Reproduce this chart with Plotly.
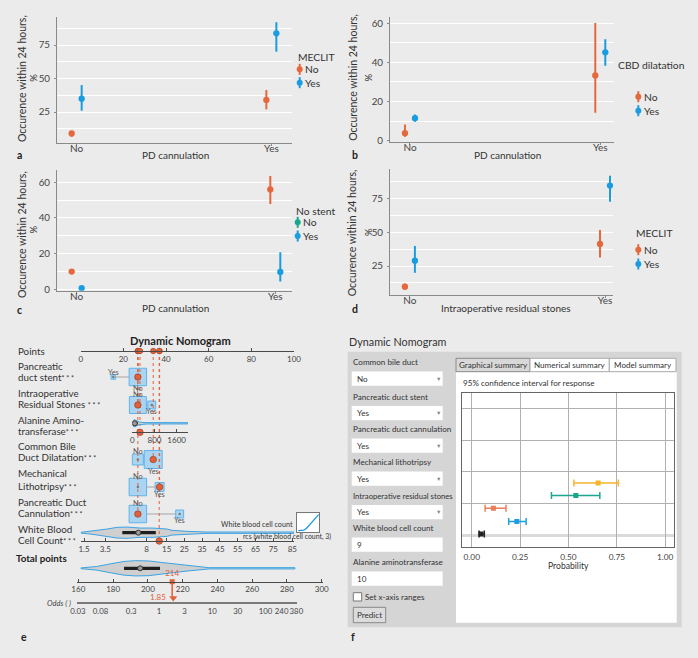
import math
import plotly.graph_objects as go

W, H = 698, 658
FONT = "Lato"
BG = "#ebebeb"
TXT = "#333333"
AXC = "#8a8a8a"
ORANGE = "#e5683d"
BLUE = "#1a9ce0"
GREEN = "#18a78b"
RED = "#e0603a"
BOXFILL = "#a9d4f2"
BOXLINE = "#62b3ea"

# ---------------- data: panels a-d ----------------
CATS = ["No", "Yes"]
CAT_POS = [1, 2]

A_NO_EST = [9.0, 34.0]
A_NO_LO = [6.6, 27.0]
A_NO_HI = [11.0, 41.4]
A_YES_EST = [34.9, 83.7]
A_YES_LO = [26.0, 70.0]
A_YES_HI = [45.1, 92.0]

B_NO_EST = [3.8, 33.3]
B_NO_LO = [2.0, 14.3]
B_NO_HI = [8.3, 60.0]
B_YES_EST = [11.5, 45.1]
B_YES_LO = [9.7, 38.2]
B_YES_HI = [13.4, 51.8]

C_NO_EST = [9.9, 56.0]
C_NO_LO = [8.6, 47.8]
C_NO_HI = [11.2, 63.5]
C_YES_EST = [0.6, 9.7]
C_YES_LO = [0.2, 4.3]
C_YES_HI = [1.2, 20.7]

D_NO_EST = [9.7, 41.3]
D_NO_LO = [7.5, 31.2]
D_NO_HI = [12.0, 51.6]
D_YES_EST = [28.9, 84.4]
D_YES_LO = [20.0, 72.5]
D_YES_HI = [39.8, 91.6]

# ---------------- data: panel e (nomogram) ----------------
PTS_TICKS = [0, 20, 40, 60, 80, 100]
CAT_NO_POINTS = [26.8, 26.8, 26.8, 26.8, 26.8]
CAT_YES_POINTS = [15.3, 33.3, 34.0, 37.0, 46.4]
CAT_NO_SHARE = [0.53, 0.50, 0.21, 0.53, 0.53]
CAT_YES_SHARE = [0.035, 0.11, 0.56, 0.14, 0.11]
CAT_SELECTED = ["No", "No", "Yes", "Yes", "No"]

ALT_TICKS = [0, 800, 1600]
ALT_SELECTED = 277
ALT_DENS_X = [0, 36, 72, 108, 180, 252, 360, 520, 2000]
ALT_DENS = [0.1, 0.7, 1.0, 0.85, 0.55, 0.3, 0.15, 0.1, 0.08]
ALT_BOX = [40, 90, 200]

WBC_TICK_LABELS = ["1.5", "3.5", "8", "15", "25", "35", "45", "55", "65", "75", "85"]
WBC_TICK_POINTS = [1.55, 11.5, 30.9, 40.3, 48.6, 56.9, 65.3, 73.6, 82.0, 90.3, 99.2]
WBC_DENS_PTS = [0, 5.8, 12.3, 17.0, 21.7, 27.8, 33.9, 40.5, 42.8, 49.8, 59.2, 100]
WBC_DENS = [0.0, 0.25, 0.62, 0.94, 1.0, 0.81, 0.81, 0.62, 0.38, 0.19, 0.06, 0.06]
WBC_BOX = [19.5, 27.0, 35.2]
WBC_SELECTED_POINTS = 36.8

TOTAL_TICKS = [160, 180, 200, 220, 240, 260, 280, 300]
TOTAL_DENS_X = [161.4, 170.6, 178.2, 186.3, 193.0, 200.5, 208.0, 214.7, 222.0, 230.0, 235.0, 284.6]
TOTAL_DENS = [0.0, 0.2, 0.55, 0.89, 1.0, 0.96, 0.75, 0.55, 0.34, 0.14, 0.04, 0.04]
TOTAL_BOX = [186.3, 195.6, 207.0]
TOTAL_SELECTED = 214
ODDS_TICKS = [0.03, 0.08, 0.3, 1, 3, 10, 30, 100, 240, 380]
ODDS_LABEL_AT = [0.03, 0.08, 0.3, 1, 3, 10, 30, 100, 200, 378]   # 240 label nudged left as in the figure
ODDS_SELECTED = 1.85

INSET_X = [0.07, 0.32, 0.44, 0.56, 0.71, 0.81, 1.0]
INSET_Y = [0.09, 0.12, 0.21, 0.37, 0.56, 0.70, 0.96]

# ---------------- data: panel f ----------------
F_INPUT_LABELS = ["Common bile duct", "Pancreatic duct stent", "Pancreatic duct cannulation",
                  "Mechanical lithotripsy", "Intraoperative residual stones",
                  "White blood cell count", "Alanine aminotransferase"]
F_INPUT_VALUES = ["No", "Yes", "Yes", "Yes", "Yes", "9", "10"]
F_INPUT_SELECT = [True, True, True, True, True, False, False]
F_PRED = [0.653, 0.538, 0.112, 0.233, 0.048]
F_LO = [0.528, 0.412, 0.069, 0.191, 0.038]
F_HI = [0.758, 0.662, 0.177, 0.281, 0.065]
F_ROW = [2.65, 2.26, 1.86, 1.44, 1.05]
F_COLORS = ["#f6b42a", "#1aa58c", "#ec7d5c", "#1e9fe0", "#222222"]
F_XTICKS = [0, 0.25, 0.5, 0.75, 1.0]

# ---------------- helpers ----------------
fig = go.Figure()
shapes = []
annotations = []
layout = {}


def dom_x(a, b):
    return [a / W, b / W]


def dom_y(top, bottom):
    return [1 - bottom / H, 1 - top / H]


def ann(text, x, y, size=11, color=TXT, xa="center", ya="middle", angle=0,
        xref="paper", yref="paper"):
    if xref == "paper":
        x = x / W
    if yref == "paper":
        y = 1 - y / H
    annotations.append(dict(text=text, x=x, y=y, xref=xref, yref=yref, showarrow=False,
                            font=dict(size=size, color=color, family=FONT),
                            xanchor=xa, yanchor=ya, textangle=angle, borderpad=0))


def prect(x0, y0, x1, y1, fill, line=None, lw=1, layer="below"):
    shapes.append(dict(type="rect", xref="paper", yref="paper", x0=x0 / W, x1=x1 / W,
                       y0=1 - y1 / H, y1=1 - y0 / H, fillcolor=fill, layer=layer,
                       line=dict(color=line if line else "rgba(0,0,0,0)", width=lw if line else 0)))


# ---------------- panels a-d ----------------
PANELS = [
    dict(i="", xd=(57, 292), yd=(17, 143), xr=(0.899, 2.106), yr=(1.9, 95.9), dt=25, mdt=12.5,
         ser=[(A_NO_EST, A_NO_LO, A_NO_HI, ORANGE, -1), (A_YES_EST, A_YES_LO, A_YES_HI, BLUE, 1)],
         xt=("PD cannulation", 175, 155), yt=(22, 79), pct=(33.5, 78.3), let=("a", 16, 155),
         leg=("MECLIT", 296.5, 57.3, 299.7, 304, [("No", 69.3, ORANGE), ("Yes", 82.7, BLUE)])),
    dict(i="2", xd=(390, 614), yd=(17, 141.7), xr=(0.895, 2.072), yr=(-0.5, 63.1), dt=20, mdt=10,
         ser=[(B_NO_EST, B_NO_LO, B_NO_HI, ORANGE, -1), (B_YES_EST, B_YES_LO, B_YES_HI, BLUE, 1)],
         xt=("PD cannulation", 507.3, 155), yt=(352.3, 77.5), pct=(368.3, 77.3), let=("b", 351, 155),
         leg=("CBD dilatation", 617, 65, 638.3, 642.5, [("No", 96.7, ORANGE), ("Yes", 110.7, BLUE)])),
    dict(i="3", xd=(57, 292), yd=(170, 290.7), xr=(0.901, 2.084), yr=(-0.8, 66.9), dt=20, mdt=10,
         ser=[(C_NO_EST, C_NO_LO, C_NO_HI, ORANGE, -1), (C_YES_EST, C_YES_LO, C_YES_HI, BLUE, 1)],
         xt=("PD cannulation", 175, 308.3), yt=(22, 235), pct=(33.3, 229.3), let=("c", 16, 310),
         leg=("No stent", 294.5, 210.7, 297.7, 302, [("No", 222.3, GREEN), ("Yes", 236, BLUE)])),
    dict(i="4", xd=(390, 613), yd=(169, 295), xr=(0.898, 2.041), yr=(3.6, 96.6), dt=25, mdt=12.5,
         ser=[(D_NO_EST, D_NO_LO, D_NO_HI, ORANGE, -1), (D_YES_EST, D_YES_LO, D_YES_HI, BLUE, 1)],
         xt=("Intraoperative residual stones", 505.7, 308.3), yt=(352.3, 233), pct=(368.3, 231.7),
         let=("d", 351, 309),
         leg=("MECLIT", 635, 233.3, 638.3, 642.5, [("No", 249.7, ORANGE), ("Yes", 264, BLUE)])),
]

for p in PANELS:
    i = p["i"]
    layout["xaxis" + i] = dict(domain=dom_x(*p["xd"]), range=list(p["xr"]), anchor="y" + i,
                               tickvals=CAT_POS, ticktext=CATS, showgrid=False, zeroline=False,
                               showline=True, linecolor=AXC, linewidth=1, ticks="outside",
                               ticklen=2, tickcolor=AXC, ticklabelstandoff=-6, automargin=False,
                               tickfont=dict(size=10, color="#444", family=FONT))
    layout["yaxis" + i] = dict(domain=dom_y(*p["yd"]), range=list(p["yr"]), anchor="x" + i,
                               tick0=0, dtick=p["dt"], showgrid=True, gridcolor="white",
                               gridwidth=1.3, zeroline=False, showline=True, linecolor=AXC,
                               linewidth=1, ticks="outside", ticklen=2, tickcolor=AXC,
                               ticklabelstandoff=2, automargin=False,
                               minor=dict(tick0=0, dtick=p["mdt"], showgrid=True,
                                          gridcolor="white", gridwidth=1.3),
                               tickfont=dict(size=9.8, color="#444", family=FONT))
    ppu = (p["xd"][1] - p["xd"][0]) / (p["xr"][1] - p["xr"][0])
    for est, lo, hi, col, side in p["ser"]:
        fig.add_trace(go.Scatter(
            x=[c + side * 5.0 / ppu for c in CAT_POS], y=est, mode="markers",
            marker=dict(color=col, size=6.3),
            error_y=dict(type="data", symmetric=False,
                         array=[h - e for h, e in zip(hi, est)],
                         arrayminus=[e - l for e, l in zip(est, lo)],
                         color=col, thickness=2, width=0),
            xaxis="x" + i, yaxis="y" + i, showlegend=False, hoverinfo="skip"))
    t, tx, ty = p["xt"]
    ann(t, tx, ty, size=10)
    ann("Occurence within 24 hours,", p["yt"][0], p["yt"][1], size=10.5, angle=-90)
    ann("%", p["pct"][0], p["pct"][1], size=9.5, angle=-90)
    ann("<b>%s</b>" % p["let"][0], p["let"][1], p["let"][2], size=10.5, color="#222", xa="left")
    title, ltx, lty, gx, ttx, entries = p["leg"]
    ann(title, ltx, lty, size=10.3, xa="left")
    for lab, gy, col in entries:
        shapes.append(dict(type="line", xref="paper", yref="paper", x0=gx / W, x1=gx / W,
                           y0=1 - (gy + 5.5) / H, y1=1 - (gy - 5.5) / H,
                           line=dict(color=col, width=2)))
        shapes.append(dict(type="circle", xref="paper", yref="paper", x0=(gx - 3) / W,
                           x1=(gx + 3) / W, y0=1 - (gy + 3) / H, y1=1 - (gy - 3) / H,
                           fillcolor=col, line=dict(color=col, width=0)))
        ann(lab, ttx, gy, size=10.3, xa="left")

# ---------------- panel e: nomogram ----------------
E_PX0, E_PX1 = 80.7, 294.0          # pixel span of points scale
PX_PER_PT = (E_PX1 - E_PX0) / 100.0
AXE = "#4a4a4a"
tickf = dict(size=8, color="#444", family=FONT)

layout["yaxis5"] = dict(domain=dom_y(338, 625), range=[625, 338], visible=False,
                        anchor="free", position=0, automargin=False)


def free_x(dom, rng, ypix, **kw):
    d = dict(domain=dom_x(*dom), range=rng, anchor="free", position=1 - ypix / H,
             side="bottom", showline=True, linecolor=AXE, linewidth=1.2, ticks="inside",
             ticklen=3, tickcolor=AXE, showgrid=False, zeroline=False, tickfont=tickf,
             tickangle=0, automargin=False)
    d.update(kw)
    return d


ALT_DOM = (132.3, 188.0)
ALT_RANGE = [0, 2010]
TOT_DOM = (77.3, 322.7)
TOT_RANGE = [159.42, 300.58]
ODDS_DOM = (77.3, 296.5)
ODDS_RANGE = [-1.533, 2.580]

layout["xaxis5"] = free_x((E_PX0, E_PX1), [0, 100], 351, tickvals=PTS_TICKS)
layout["xaxis6"] = free_x(ALT_DOM, ALT_RANGE, 432.3, tickvals=ALT_TICKS)
layout["xaxis7"] = free_x((E_PX0, E_PX1), [0, 100], 541, tickvals=WBC_TICK_POINTS,
                          ticktext=WBC_TICK_LABELS)
layout["xaxis8"] = free_x(TOT_DOM, TOT_RANGE, 581.7, tickvals=TOTAL_TICKS)
layout["xaxis9"] = free_x(ODDS_DOM, ODDS_RANGE, 603.3, type="log", tickvals=ODDS_LABEL_AT,
                          ticktext=[str(v) for v in ODDS_TICKS], ticks="", linewidth=2,
                          linecolor="#7a7a7a", tickfont=dict(size=7.8, color="#444", family=FONT))


def alt_to_points(v):
    pix = ALT_DOM[0] + (v - ALT_RANGE[0]) / (ALT_RANGE[1] - ALT_RANGE[0]) * (ALT_DOM[1] - ALT_DOM[0])
    return (pix - E_PX0) / PX_PER_PT


ann("<b>Dynamic Nomogram</b>", 180, 340.5, size=11, color="#222")
ann("Points", 17, 350.5, size=9.8, xa="left")

ROW_LABELS = [("Pancreatic", "duct stent"), ("Intraoperative", "Residual Stones "),
              ("Alanine Amino-", "transferase"), ("Common Bile", "Duct Dilatation"),
              ("Mechanical", "Lithotripsy"), ("Pancreatic Duct", "Cannulation"),
              ("White Blood", "Cell Count")]
ROW_LABEL_Y = [(366, 376.7), (393.3, 404), (420, 430.7), (446, 457.3), (473.3, 485.7),
               (501.7, 513.3), (529.3, 540)]
for (l1, l2), (y1, y2) in zip(ROW_LABELS, ROW_LABEL_Y):
    ann(l1, 17, y1, size=9.8, xa="left")
    ann(l2 + "<span style='font-size:7px'>* * *</span>", 17, y2, size=9.8, xa="left")
ann("<b>Total points</b>", 15, 558.3, size=9.8, color="#222", xa="left")

CAT_ROW_Y = [377, 405, 459.5, 487, 514]
LABEL_ABOVE = ["Yes", "No", "No", "No", "No"]
BOX_SCALE = 24.0

# connecting lines then boxes (shapes), dots as traces
for k in range(5):
    yrow = CAT_ROW_Y[k]
    shapes.append(dict(type="line", xref="x5", yref="y5", x0=CAT_NO_POINTS[k], x1=CAT_YES_POINTS[k],
                       y0=yrow, y1=yrow, layer="below", line=dict(color="#bcbcbc", width=1.5)))
for k in range(5):
    yrow = CAT_ROW_Y[k]
    for lev, pts, share in (("No", CAT_NO_POINTS[k], CAT_NO_SHARE[k]),
                            ("Yes", CAT_YES_POINTS[k], CAT_YES_SHARE[k])):
        side = BOX_SCALE * math.sqrt(share)
        hw = side / 2 / PX_PER_PT
        shapes.append(dict(type="rect", xref="x5", yref="y5", x0=pts - hw, x1=pts + hw,
                           y0=yrow - side / 2, y1=yrow + side / 2, layer="below",
                           fillcolor=BOXFILL, line=dict(color=BOXLINE, width=1)))
        if lev == LABEL_ABOVE[k]:
            ly = yrow - side / 2 - 2.2
        else:
            ly = yrow + side / 2 + 2.8
        ann(lev, pts, ly, size=7.3, color="#555", xref="x5", yref="y5")
        if lev != CAT_SELECTED[k]:
            fig.add_trace(go.Scatter(x=[pts], y=[yrow], mode="markers",
                                     marker=dict(color="#7a7a7a", size=2.5),
                                     xaxis="x5", yaxis="y5", showlegend=False, hoverinfo="skip"))

# violins


def violin(xs, dens, yc, maxhalf, xa):
    up = [yc - d * maxhalf - 0.35 for d in dens]
    lo = [yc + d * maxhalf + 0.35 for d in dens]
    fig.add_trace(go.Scatter(x=list(xs) + list(xs)[::-1], y=up + lo[::-1], mode="lines",
                             fill="toself", fillcolor="#cfcfcf",
                             line=dict(color="#3aa3e4", width=1), xaxis=xa, yaxis="y5",
                             showlegend=False, hoverinfo="skip"))


def boxline(q, yc, xa, thick=3.2):
    fig.add_trace(go.Scatter(x=[q[0], q[2]], y=[yc, yc], mode="lines",
                             line=dict(color="#1e1e1e", width=thick), xaxis=xa, yaxis="y5",
                             showlegend=False, hoverinfo="skip"))
    fig.add_trace(go.Scatter(x=[q[1]], y=[yc], mode="markers",
                             marker=dict(color="#9a9a9a", size=5, line=dict(color="#333", width=1)),
                             xaxis=xa, yaxis="y5", showlegend=False, hoverinfo="skip"))


violin(ALT_DENS_X, ALT_DENS, 423.3, 3.4, "x6")
boxline(ALT_BOX, 423.3, "x6", thick=2)
violin(WBC_DENS_PTS, WBC_DENS, 532.7, 5.3, "x5")
boxline(WBC_BOX, 532.7, "x5")
violin(TOTAL_DENS_X, TOTAL_DENS, 568.3, 7.3, "x8")
boxline(TOTAL_BOX, 568.3, "x8")

# selected values: dotted guides + dots
sel_points = []
sel_rows = []
for k in range(5):
    sel_points.append(CAT_NO_POINTS[k] if CAT_SELECTED[k] == "No" else CAT_YES_POINTS[k])
    sel_rows.append(CAT_ROW_Y[k])
sel_points.append(alt_to_points(ALT_SELECTED))
sel_rows.append(432.3)
sel_points.append(WBC_SELECTED_POINTS)
sel_rows.append(541)

for pts, yr in zip(sel_points, sel_rows):
    fig.add_trace(go.Scatter(x=[pts, pts], y=[351, yr], mode="lines",
                             line=dict(color=RED, width=1, dash="dot"),
                             xaxis="x5", yaxis="y5", showlegend=False, hoverinfo="skip"))
dotm = dict(color=RED, size=6.5, line=dict(color="#9c3f25", width=0.7))
fig.add_trace(go.Scatter(x=sel_points[:5], y=sel_rows[:5], mode="markers", marker=dotm,
                         xaxis="x5", yaxis="y5", showlegend=False, hoverinfo="skip"))
fig.add_trace(go.Scatter(x=sel_points, y=[351] * len(sel_points), mode="markers",
                         marker=dict(color=RED, size=5.5, line=dict(color="#9c3f25", width=0.6)),
                         xaxis="x5", yaxis="y5", showlegend=False, hoverinfo="skip", cliponaxis=False))
fig.add_trace(go.Scatter(x=[ALT_SELECTED], y=[432.3], mode="markers", marker=dotm,
                         xaxis="x6", yaxis="y5", showlegend=False, hoverinfo="skip", cliponaxis=False))
fig.add_trace(go.Scatter(x=[WBC_SELECTED_POINTS], y=[541], mode="markers", marker=dotm,
                         xaxis="x7", yaxis="y5", showlegend=False, hoverinfo="skip", cliponaxis=False))

# total points -> odds
fig.add_trace(go.Scatter(x=[TOTAL_SELECTED, TOTAL_SELECTED], y=[581.7, 596.5], mode="lines",
                         line=dict(color=RED, width=1.5), xaxis="x8", yaxis="y5",
                         showlegend=False, hoverinfo="skip"))
fig.add_trace(go.Scatter(x=[TOTAL_SELECTED], y=[581.7], mode="markers+text",
                         marker=dict(color=RED, size=5, symbol="square"),
                         text=[str(TOTAL_SELECTED)], textposition="top center",
                         textfont=dict(size=8, color=RED, family=FONT),
                         xaxis="x8", yaxis="y5", showlegend=False, hoverinfo="skip", cliponaxis=False))
fig.add_trace(go.Scatter(x=[ODDS_SELECTED], y=[598], mode="markers+text",
                         marker=dict(color=RED, size=7, symbol="triangle-down"),
                         text=["%.2f" % ODDS_SELECTED + " "], textposition="middle left",
                         textfont=dict(size=8, color=RED, family=FONT),
                         xaxis="x9", yaxis="y5", showlegend=False, hoverinfo="skip", cliponaxis=False))
ann("<i>Odds ( )</i>", 72, 603.3, size=7.5, color="#444", xa="right")

# inset rcs curve
prect(296.7, 513.3, 319.3, 532.3, "white")
layout["xaxis11"] = dict(domain=dom_x(296.7, 319.3), range=[0, 1.03], anchor="y11",
                         showticklabels=False, ticks="", showgrid=False, zeroline=False,
                         showline=True, mirror=True, linecolor="#777", linewidth=1, automargin=False)
layout["yaxis11"] = dict(domain=dom_y(513.3, 532.3), range=[0, 1.03], anchor="x11",
                         showticklabels=False, ticks="", showgrid=False, zeroline=False,
                         showline=True, mirror=True, linecolor="#777", linewidth=1, automargin=False)
fig.add_trace(go.Scatter(x=INSET_X, y=INSET_Y, mode="lines", line=dict(color=BLUE, width=1.3),
                         xaxis="x11", yaxis="y11", showlegend=False, hoverinfo="skip"))
ann("White blood cell count", 294, 524.3, size=7.2, color="#333", xa="right")
ann("rcs (white blood cell count, 3)", 241.5, 536.7, size=6.9, color="#333", xa="left")

# ---------------- panel f ----------------
FS = 8.1
ann("Dynamic Nomogram", 348, 341.7, size=10.8, color="#333", xa="left")
prect(347.7, 351.7, 681.7, 627.3, "#d5d5d5")
prect(456, 371.7, 676.7, 622.7, "white")
# tabs
prect(456, 358.3, 530, 371.7, "#d8d8d8", line="#8a8a8a", lw=1)
prect(530, 358.3, 609.3, 371.7, "white", line="#aaaaaa", lw=1)
prect(609.3, 358.3, 676, 371.7, "white", line="#aaaaaa", lw=1)
ann("Graphical summary", 493, 365.2, size=FS, color="#333")
ann("Numerical summary", 569.7, 365.2, size=FS, color="#333")
ann("Model summary", 642.7, 365.2, size=FS, color="#333")
ann("95% confidence interval for response", 461.5, 383.3, size=FS, color="#333", xa="left")

F_LABEL_Y = [362.3, 396.7, 429.3, 462.3, 495.7, 528.3, 562.3]
for lab, val, sel, ly in zip(F_INPUT_LABELS, F_INPUT_VALUES, F_INPUT_SELECT, F_LABEL_Y):
    size = FS if len(lab) < 28 else 7.7
    ann(lab, 352, ly, size=size, color="#333", xa="left")
    by0, by1 = ly + 9.2, ly + 23.5
    prect(351.7, by0, 442.7, by1, "white")
    ann(val, 355.5, (by0 + by1) / 2, size=FS, color="#333", xa="left")
    if sel:
        ann("▼", 438.5, (by0 + by1) / 2, size=5.5, color="#888")
prect(353.3, 592.7, 361.7, 601, "white", line="#777", lw=1)
ann("Set x-axis ranges", 363.5, 596.7, size=FS, color="#333", xa="left")
prect(353.3, 607.3, 385.7, 622.7, "#dcdcdc", line="#888", lw=1)
ann("Predict", 369.5, 615, size=FS, color="#333")
ann("<b>f</b>", 350, 636.7, size=10.5, color="#222", xa="left")
ann("<b>e</b>", 20, 636.7, size=10.5, color="#222", xa="left")

layout["xaxis10"] = dict(domain=dom_x(461.7, 674.3), range=[-0.052, 1.047], anchor="y10",
                         tickvals=F_XTICKS, ticktext=["%.2f" % v for v in F_XTICKS],
                         showgrid=True, gridcolor="#b0b0b0", gridwidth=1, zeroline=False,
                         showline=True, mirror=True, linecolor="#666", linewidth=1.3, ticks="",
                         ticklabelstandoff=2, automargin=False,
                         tickfont=dict(size=8.3, color="#444", family=FONT))
layout["yaxis10"] = dict(domain=dom_y(393.3, 547.3), range=[0.63, 5.47], anchor="x10",
                         tickvals=[2, 3, 4, 5], showticklabels=False, showgrid=True,
                         gridcolor="#b0b0b0", gridwidth=1, zeroline=False, showline=True,
                         mirror=True, linecolor="#666", linewidth=1.3, ticks="", automargin=False)
shapes.append(dict(type="line", xref="x10 domain", yref="y10", x0=0, x1=1, y0=1, y1=1,
                   layer="below", line=dict(color="#dadada", width=3)))
ann("Probability", 568, 566, size=8.6, color="#333")
for pr, lo, hi, yr, col in zip(F_PRED, F_LO, F_HI, F_ROW, F_COLORS):
    fig.add_trace(go.Scatter(x=[pr], y=[yr], mode="markers",
                             marker=dict(color=col, size=5, symbol="square"),
                             error_x=dict(type="data", symmetric=False, array=[hi - pr],
                                          arrayminus=[pr - lo], color=col, thickness=1.5, width=3.5),
                             xaxis="x10", yaxis="y10", showlegend=False, hoverinfo="skip"))

fig.update_layout(width=W, height=H, autosize=False, margin=dict(l=0, r=0, t=0, b=0, pad=0),
                  paper_bgcolor=BG, plot_bgcolor="rgba(0,0,0,0)", showlegend=False,
                  font=dict(family=FONT, color=TXT), shapes=shapes, annotations=annotations,
                  **layout)
fig.write_html("out.html")
